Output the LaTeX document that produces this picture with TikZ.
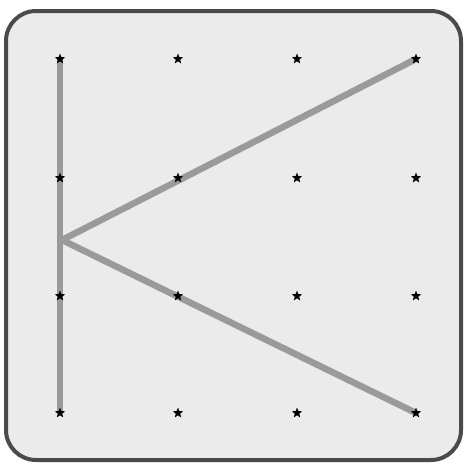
\documentclass[tikz,border=0pt]{standalone}
\usetikzlibrary{shapes.geometric}
\definecolor{boardfill}{HTML}{EBEBEB}
\definecolor{boardedge}{HTML}{4A4A4A}
\definecolor{strokegray}{HTML}{9A9A9A}
\tikzset{
  peg/.style={star,star points=5,star point ratio=2.4,fill=black,inner sep=0pt,minimum size=11pt},
  letter/.style={line width=6.5pt,strokegray}
}
\begin{document}
\begin{tikzpicture}[x=1pt,y=-1pt]
  \useasboundingbox (0,0) rectangle (469,472);
  % board
  \draw[boardedge,line width=4pt,fill=boardfill,rounded corners=30pt] (6,11) rectangle (461,460);

  % grid of stars (scale: 1 unit = 1 px)
  \foreach \c/\x in {1/60,2/178,3/297,4/416}
    \foreach \r/\y in {1/59,2/178,3/296,4/413}
      \coordinate (p\c\r) at (\x,\y);

  % the letter K
  \coordinate (kv) at (62,240);
  \draw[letter] (p11) -- (p14);
  \draw[letter] (kv) -- (p41);
  \draw[letter] (kv) -- (p44);

  \foreach \c in {1,...,4}
    \foreach \r in {1,...,4}
      \node[peg] (s\c\r) at (p\c\r) {};
\end{tikzpicture}
\end{document}
